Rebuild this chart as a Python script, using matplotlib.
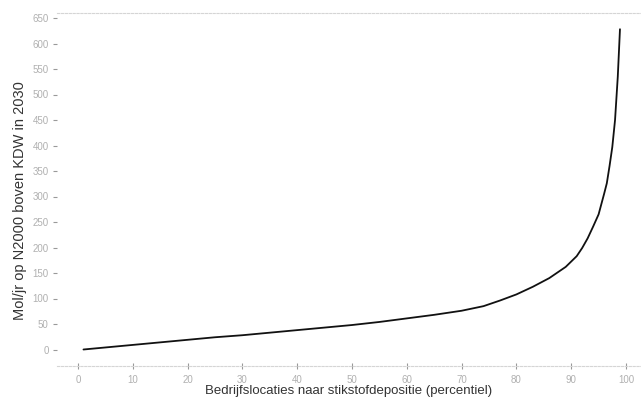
import matplotlib
matplotlib.use("Agg")
import matplotlib.pyplot as plt

# Data
percentiel = [1, 5, 10, 15, 20, 25, 30, 35, 40, 45, 50, 55, 60, 65, 70, 74, 77, 80,
              83, 86, 89, 91, 92, 93, 94, 95, 96, 96.5, 97, 97.5, 98, 98.5, 98.9]
mol_jr = [0, 4, 9, 14, 19, 24, 28, 33, 38, 43, 48, 54, 61, 68, 76, 85, 96, 108,
          123, 140, 162, 183, 199, 218, 241, 265, 305, 326, 360, 397, 450, 535, 628]
x_ticks = [0, 10, 20, 30, 40, 50, 60, 70, 80, 90, 100]
y_ticks = list(range(0, 651, 50))

W, H = 641, 400
fig = plt.figure(figsize=(W / 100, H / 100), dpi=100)
plt.rcParams['font.family'] = ['Liberation Sans', 'DejaVu Sans']

left, right, top, bottom = 57, 641, 13, 366
ax = fig.add_axes([left / W, 1 - bottom / H, (right - left) / W, (bottom - top) / H])

# map data to pixels: x 0 -> 78px, 100 -> 626px ; y 0 -> 349.5px, 650 -> 18px
xpp = 100 / (626 - 78)
ypp = 650 / (349.5 - 18)
ax.set_xlim(0 - (78 - left) * xpp, 100 + (right - 626) * xpp)
ax.set_ylim(0 - (bottom - 349.5) * ypp, 650 + (18 - top) * ypp)

ax.plot(percentiel, mol_jr, color='#111111', linewidth=1.3, solid_capstyle='round',
        solid_joinstyle='round')

ax.set_xticks(x_ticks)
ax.set_yticks(y_ticks)
ax.tick_params(axis='both', labelsize=7, labelcolor='#b0b0b0', color='#999999')
ax.tick_params(axis='x', direction='inout', length=5, width=0.8, pad=4)
ax.tick_params(axis='y', direction='out', length=3, width=0.8, pad=3)

for s in ['left', 'right']:
    ax.spines[s].set_visible(False)
for s in ['top', 'bottom']:
    ax.spines[s].set_color('#d5d5d5')
    ax.spines[s].set_linewidth(0.8)
    ax.spines[s].set_linestyle((0, (2, 1.5)))

ax.set_xlabel('Bedrijfslocaties naar stikstofdepositie (percentiel)', fontsize=9.5,
              color='#333333', labelpad=0)
ax.set_ylabel('Mol/jr op N2000 boven KDW in 2030', fontsize=10.5, color='#333333')
ax.yaxis.set_label_coords(-0.052, 0.47)

fig.savefig('out.png', dpi=100)
